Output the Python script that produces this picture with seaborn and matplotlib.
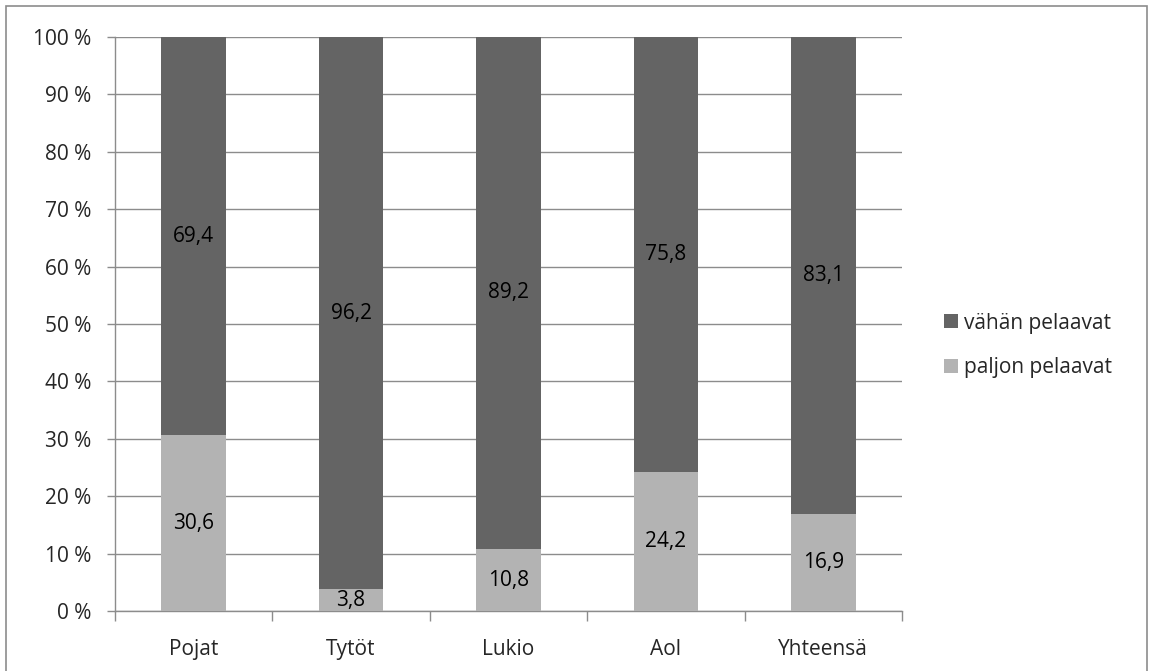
import matplotlib
matplotlib.use("Agg")
import matplotlib.pyplot as plt
from matplotlib.patches import Rectangle
import seaborn as sns
import pandas as pd

categories = ["Pojat", "Tytöt", "Lukio", "Aol", "Yhteensä"]
paljon = [30.6, 3.8, 10.8, 24.2, 16.9]
vahan = [69.4, 96.2, 89.2, 75.8, 83.1]
series_names = ["vähän pelaavat", "paljon pelaavat"]
ytick_values = list(range(0, 101, 10))

dark = "#646464"
light = "#b3b3b3"
grid = "#8c8c8c"
fs = 15

sns.set_theme(style="white")
plt.rcParams["font.family"] = ["Open Sans", "DejaVu Sans"]

df = pd.DataFrame({"cat": categories, "paljon": paljon, "vahan": vahan})
df["total"] = df["paljon"] + df["vahan"]

fig = plt.figure(figsize=(11.49, 6.71), dpi=100)
ax = fig.add_axes([0.1001, 0.0894, 0.785 - 0.1001, 0.9449 - 0.0894])

# stacked bars: full height in dark, lower segment in light over it
sns.barplot(data=df, x="cat", y="total", color=dark, saturation=1, width=0.41,
            ax=ax, label=series_names[0], zorder=3, linewidth=0)
sns.barplot(data=df, x="cat", y="paljon", color=light, saturation=1, width=0.41,
            ax=ax, label=series_names[1], zorder=3, linewidth=0)

for i, (p, v) in enumerate(zip(paljon, vahan)):
    ax.text(i, p / 2, f"{p:.1f}".replace(".", ","), ha="center", va="center",
            fontsize=fs, color="black", zorder=4)
    ax.text(i, p + v / 2, f"{v:.1f}".replace(".", ","), ha="center", va="center",
            fontsize=fs, color="black", zorder=4)

ax.set_ylim(0, 100)
ax.set_xlim(-0.5, len(categories) - 0.5)
ax.set_yticks(ytick_values)
ax.set_yticklabels([f"{v} %" for v in ytick_values], fontsize=fs)
ax.set_xticks(range(len(categories)))
ax.set_xticklabels(categories, fontsize=fs)
ax.set_xlabel("")
ax.set_ylabel("")

ax.yaxis.grid(True, color=grid, linewidth=1, zorder=0)
ax.xaxis.grid(False)
for s in ["top", "right"]:
    ax.spines[s].set_visible(False)
for s in ["left", "bottom"]:
    ax.spines[s].set_color(grid)
    ax.spines[s].set_linewidth(1)

# category boundary ticks below the axis
ax.set_xticks([i - 0.5 for i in range(len(categories) + 1)], minor=True)
ax.tick_params(axis="x", which="minor", length=7, color=grid, width=1, direction="out", bottom=True)
ax.tick_params(axis="x", which="major", length=0, pad=20)
ax.tick_params(axis="y", which="major", length=5.8, color=grid, width=1, direction="out", left=True, pad=11)

handles, labels = ax.get_legend_handles_labels()
leg = ax.legend(handles, labels, loc="center left", bbox_to_anchor=(1.03, 0.4625),
                frameon=False, fontsize=fs, handlelength=0.65, handleheight=0.65,
                handletextpad=0.3, labelspacing=1.15)

fig.patches.append(Rectangle((0.005, -0.01), 0.993, 1.001, transform=fig.transFigure,
                             fill=False, edgecolor="#8c8c8c", linewidth=1.2))

fig.savefig("out.png", dpi=100)
